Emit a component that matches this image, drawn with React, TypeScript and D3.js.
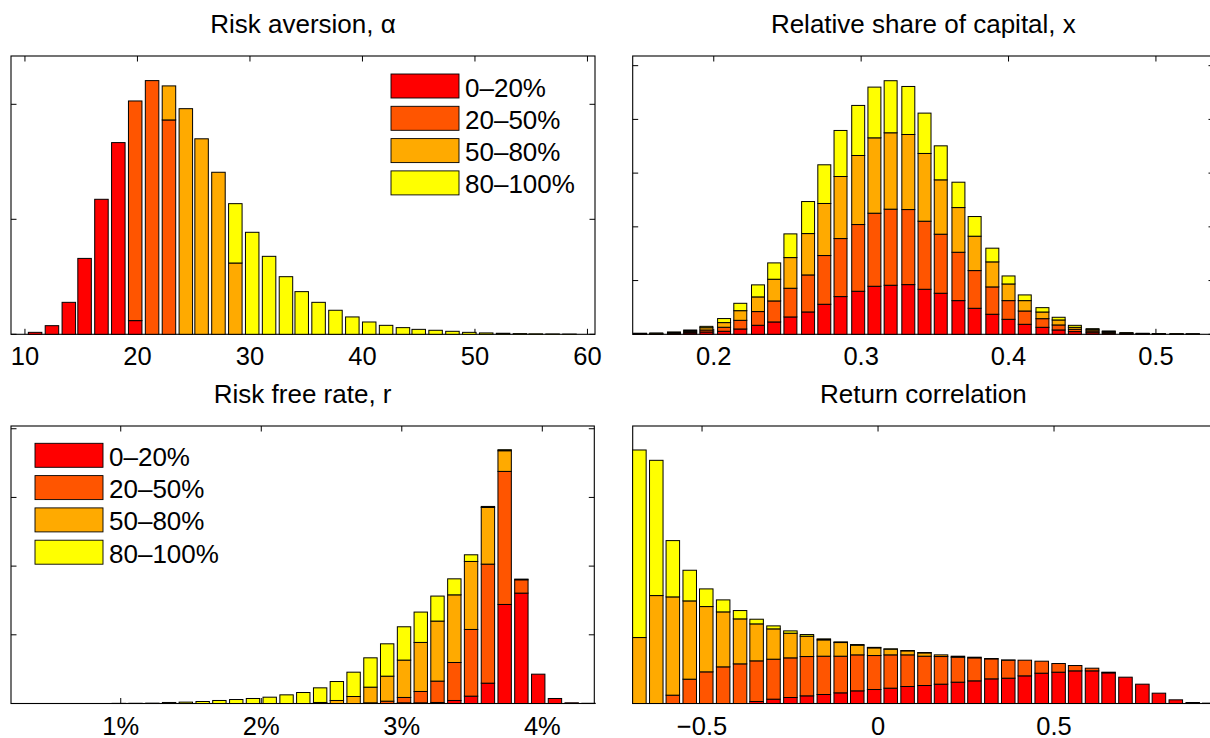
import * as d3 from "d3";
import React from "react";

const FONT = "'Liberation Sans', Arial, Helvetica, sans-serif";

const quantileLabels = ["0–20%", "20–50%", "50–80%", "80–100%"];
const quantileColors = ["#ff0000", "#ff5500", "#ffaa00", "#ffff00"];

// Risk aversion, alpha
const alphaBins = [10.9, 12.4, 13.9, 15.3, 16.8, 18.3, 19.8, 21.3, 22.8, 24.3, 25.7, 27.2, 28.7, 30.2, 31.7, 33.2, 34.6, 36.1, 37.6, 39.1, 40.6, 42.1, 43.6, 45.0, 46.5, 48.0, 49.5, 51.0, 52.5, 54.0, 55.4, 56.9, 58.4];
const alphaQ1 = [1.7, 7.5, 27.8, 66, 117.4, 166.7, 11.9, 0, 0, 0, 0, 0, 0, 0, 0, 0, 0, 0, 0, 0, 0, 0, 0, 0, 0, 0, 0, 0, 0, 0, 0, 0, 0];
const alphaQ2 = [0, 0, 0, 0, 0, 0, 191, 220.6, 186.4, 0, 0, 0, 0, 0, 0, 0, 0, 0, 0, 0, 0, 0, 0, 0, 0, 0, 0, 0, 0, 0, 0, 0, 0];
const alphaQ3 = [0, 0, 0, 0, 0, 0, 0, 0, 29.6, 196.2, 170, 140.9, 62, 0, 0, 0, 0, 0, 0, 0, 0, 0, 0, 0, 0, 0, 0, 0, 0, 0, 0, 0, 0];
const alphaQ4 = [0, 0, 0, 0, 0, 0, 0, 0, 0, 0, 0, 0, 51.6, 88.7, 67.8, 50.1, 37.1, 27.8, 20.9, 15.1, 10.7, 7.8, 5.8, 4.3, 3.5, 2.6, 1.7, 1.2, 0.9, 0.6, 0.4, 0.3, 0.2];
const alphaTicks = [10, 20, 30, 40, 50, 60];

// Relative share of capital, x
const shareBins = [0.150, 0.161, 0.173, 0.184, 0.195, 0.207, 0.218, 0.230, 0.241, 0.252, 0.264, 0.275, 0.286, 0.298, 0.309, 0.320, 0.332, 0.343, 0.354, 0.366, 0.377, 0.389, 0.400, 0.411, 0.423, 0.434, 0.445, 0.457, 0.468, 0.480, 0.491, 0.502, 0.514, 0.525];
const shareQ1 = [0.5, 0.6, 1.1, 2.5, 4.3, 5.6, 9.9, 16.8, 23, 32.3, 41.6, 55.9, 70.2, 80.1, 89.4, 91.3, 92.5, 83.8, 76.4, 62.7, 48.4, 37.3, 27.9, 18.6, 13, 8.1, 5, 3, 2, 1, 0.6, 0.4, 0.3, 0.2];
const shareQ2 = [0.5, 0.6, 1.1, 2, 3.7, 7.5, 16.1, 25.5, 39.1, 53.4, 68.9, 90.7, 108, 124.2, 136, 141.6, 139.7, 126.7, 109.9, 90, 70.2, 50.9, 34.8, 24.8, 16.1, 9.3, 4.3, 3, 1.7, 0.8, 0.5, 0.3, 0.2, 0.15];
const shareQ3 = [0.5, 0.6, 1.1, 2, 4.3, 8.7, 18, 27.3, 40.4, 57.1, 77, 96.9, 115.5, 128.5, 140.3, 142.2, 139.7, 126.1, 101.2, 83.2, 64, 46.6, 31, 19.3, 12.4, 9.3, 3.7, 2.5, 1.5, 0.7, 0.4, 0.3, 0.2, 0.15];
const shareQ4 = [0.5, 0.6, 1.1, 1.5, 2.5, 7.5, 13.7, 22.4, 30.4, 44.1, 59.6, 72, 85.7, 93.2, 94.4, 96.9, 89.4, 75.1, 63.3, 47.2, 36.6, 25.5, 14.9, 10.6, 8.1, 5, 3.7, 2, 1, 0.6, 0.4, 0.2, 0.2, 0.1];
const shareTicks = [0.2, 0.3, 0.4, 0.5];

// Risk free rate, r (percent)
const rateBins = [0.986, 1.105, 1.225, 1.344, 1.463, 1.583, 1.702, 1.822, 1.941, 2.060, 2.180, 2.299, 2.419, 2.538, 2.657, 2.777, 2.896, 3.016, 3.135, 3.254, 3.374, 3.493, 3.613, 3.732, 3.851, 3.971, 4.090, 4.209, 4.329];
const rateQ1 = [0, 0, 0, 0, 0, 0, 0, 0, 0, 0, 0, 0, 0, 0, 0, 0, 0, 1, 1, 1.5, 4.4, 10.7, 29.6, 144.2, 160.7, 42.7, 7.3, 1, 0.3];
const rateQ2 = [0, 0, 0, 0, 0, 0, 0, 0, 0, 0, 0, 0, 0, 0, 0, 1, 3.4, 7.8, 16.5, 31.1, 55.3, 97.1, 173.3, 193.7, 19.4, 0, 0, 0, 0];
const rateQ3 = [0, 0, 0, 0, 0, 0, 0, 0, 0, 0, 0, 0, 1.5, 4.4, 10.2, 22.8, 36.4, 54.4, 71.4, 87.4, 98.5, 99, 82.5, 30.1, 1, 0, 0, 0, 0];
const rateQ4 = [0.2, 0.3, 0.5, 1.5, 2, 2.9, 4.4, 5.8, 7.3, 9.2, 12.6, 16, 21.3, 27.6, 35.4, 42.7, 47.1, 48.5, 44.2, 36.4, 23.3, 9.7, 1.5, 1.5, 0, 0, 0, 0, 0];
const rateTicks = [1, 2, 3, 4];

// Return correlation
const corrBins = [-0.678, -0.630, -0.583, -0.535, -0.488, -0.440, -0.392, -0.345, -0.297, -0.249, -0.202, -0.154, -0.106, -0.059, -0.011, 0.036, 0.084, 0.132, 0.179, 0.227, 0.274, 0.322, 0.370, 0.417, 0.465, 0.513, 0.560, 0.608, 0.655, 0.703, 0.751, 0.798, 0.846, 0.894, 0.941];
const corrQ1 = [0, 0, 0, 0, 0, 0, 0, 0.6, 1.3, 1.8, 2.3, 2.7, 3.2, 3.8, 4.2, 4.6, 5.1, 5.4, 5.8, 6.4, 6.8, 7.4, 7.6, 8.3, 9.1, 9.4, 9.8, 9.8, 9.2, 7.9, 5.8, 3.1, 1.1, 0.3, 0.1];
const corrQ2 = [0, 0, 2.5, 7.3, 9.5, 11.0, 11.9, 12.2, 12.0, 11.9, 11.8, 11.5, 11.0, 10.8, 10.2, 10.0, 9.5, 8.8, 8.3, 7.5, 6.9, 6.0, 5.4, 4.7, 3.6, 2.6, 1.6, 0.8, 0.2, 0, 0, 0, 0, 0, 0];
const corrQ3 = [19.8, 32.4, 29.5, 23.5, 19.6, 16.5, 13.5, 11.1, 9.1, 7.4, 6.1, 4.9, 4.1, 2.9, 2.3, 1.7, 1.2, 1.0, 0.5, 0.3, 0.2, 0.1, 0.05, 0, 0, 0, 0, 0, 0, 0, 0, 0, 0, 0, 0];
const corrQ4 = [56.3, 40.6, 16.9, 9.2, 5.3, 3.6, 2.5, 1.4, 0.9, 0.7, 0.5, 0.3, 0.2, 0.2, 0.15, 0.1, 0.1, 0.1, 0, 0, 0, 0, 0, 0, 0, 0, 0, 0, 0, 0, 0, 0, 0, 0, 0];
const corrTicks = [-0.5, 0, 0.5];

type Box = { left: number; right: number; top: number; bottom: number };

type PanelProps = {
  title: string;
  bins: number[];
  groups: number[][];
  box: Box;
  xDomain: [number, number];
  yMax: number;
  xTicks: number[];
  xLabel: (v: number) => string;
  yTicks: number[];
  legend?: [number, number];
};

const TICK = 5.5;

function Panel({ title, bins, groups, box, xDomain, yMax, xTicks, xLabel, yTicks, legend }: PanelProps) {
  const x = d3.scaleLinear().domain(xDomain).range([box.left, box.right]);
  const y = d3.scaleLinear().domain([0, yMax]).range([box.bottom, box.top]);

  const rows = bins.map((b, i) => {
    const r: any = { bin: b };
    quantileLabels.forEach((k, j) => (r[k] = groups[j][i]));
    return r;
  });
  const layers = d3.stack<any>().keys(quantileLabels)(rows);
  const half = ((bins[1] - bins[0]) * 0.8) / 2;

  return (
    <g>
      <text x={(box.left + box.right) / 2} y={box.top - 23} textAnchor="middle" fontSize={26}>
        {title}
      </text>
      {/* axes box and ticks sit under the bars */}
      <rect x={box.left} y={box.top} width={box.right - box.left} height={box.bottom - box.top} fill="white" stroke="#000" strokeWidth={1.1} />
      {xTicks.map((t) => (
        <g key={"x" + t}>
          <line x1={x(t)} x2={x(t)} y1={box.bottom} y2={box.bottom - TICK} stroke="#000" />
          <line x1={x(t)} x2={x(t)} y1={box.top} y2={box.top + TICK} stroke="#000" />
          <text x={x(t)} y={box.bottom + 31} textAnchor="middle" fontSize={25.5}>
            {xLabel(t)}
          </text>
        </g>
      ))}
      {yTicks.map((t) => (
        <g key={"y" + t}>
          <line x1={box.left} x2={box.left + TICK} y1={y(t)} y2={y(t)} stroke="#000" />
          <line x1={box.right} x2={box.right - TICK} y1={y(t)} y2={y(t)} stroke="#000" />
        </g>
      ))}
      {layers.map((layer, j) => (
        <g key={layer.key} fill={quantileColors[j]} stroke="#000" strokeWidth={1}>
          {layer.map((d, i) =>
            d[1] - d[0] > 0 ? (
              <rect
                key={i}
                x={x(d.data.bin - half)}
                y={y(d[1])}
                width={x(d.data.bin + half) - x(d.data.bin - half)}
                height={y(d[0]) - y(d[1])}
              />
            ) : null
          )}
        </g>
      ))}
      {legend && (
        <g>
          {quantileLabels.map((lab, j) => (
            <g key={lab} transform={`translate(${legend[0]},${legend[1] + j * 32.3})`}>
              <rect width={68} height={24} fill={quantileColors[j]} stroke="#000" strokeWidth={0.9} />
              <text x={74} y={22.5} fontSize={26}>
                {lab}
              </text>
            </g>
          ))}
        </g>
      )}
    </g>
  );
}

export default function App() {
  const pct = (v: number) => `${v}%`;
  const dec = (v: number) => d3.format(".1f")(v);
  const corr = (v: number) => (v < 0 ? "−" + Math.abs(v) : String(v));
  return (
    <div style={{ position: "absolute", left: 0, top: 0 }}>
      <svg width={1210} height={738} style={{ display: "block", fontFamily: FONT }}>
        <rect width={1210} height={738} fill="white" />
        <Panel
          title="Risk aversion, α"
          bins={alphaBins}
          groups={[alphaQ1, alphaQ2, alphaQ3, alphaQ4]}
          box={{ left: 11, right: 595, top: 56, bottom: 334.3 }}
          xDomain={[8.76, 60.67]}
          yMax={242}
          xTicks={alphaTicks}
          xLabel={(v) => String(v)}
          yTicks={[0, 100, 200]}
          legend={[391, 74]}
        />
        <Panel
          title="Relative share of capital, x"
          bins={shareBins}
          groups={[shareQ1, shareQ2, shareQ3, shareQ4]}
          box={{ left: 632.7, right: 1214, top: 56, bottom: 334.3 }}
          xDomain={[0.145, 0.5394]}
          yMax={518}
          xTicks={shareTicks}
          xLabel={dec}
          yTicks={[0, 100, 200, 300, 400, 500]}
        />
        <Panel
          title="Risk free rate, r"
          bins={rateBins}
          groups={[rateQ1, rateQ2, rateQ3, rateQ4]}
          box={{ left: 11, right: 594.3, top: 426, bottom: 703.5 }}
          xDomain={[0.219, 4.37]}
          yMax={404}
          xTicks={rateTicks}
          xLabel={pct}
          yTicks={[0, 100, 200, 300, 400]}
          legend={[35, 443.3]}
        />
        <Panel
          title="Return correlation"
          bins={corrBins}
          groups={[corrQ1, corrQ2, corrQ3, corrQ4]}
          box={{ left: 632.7, right: 1214, top: 426, bottom: 703.5 }}
          xDomain={[-0.697, 0.9545]}
          yMax={83.3}
          xTicks={corrTicks}
          xLabel={corr}
          yTicks={[]}
        />
      </svg>
    </div>
  );
}
